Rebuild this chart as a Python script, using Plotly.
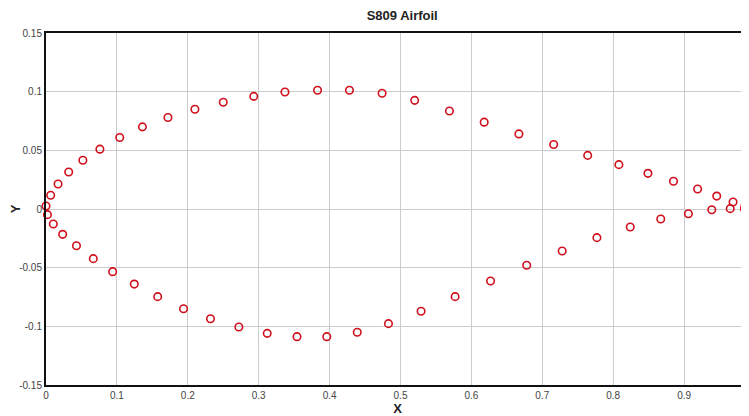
import plotly.graph_objects as go

# S809 airfoil coordinates
upper_x = [0.986, 0.969, 0.946, 0.919, 0.885, 0.849, 0.808, 0.764, 0.716, 0.667,
           0.618, 0.569, 0.520, 0.474, 0.428, 0.383, 0.337, 0.293, 0.250, 0.210,
           0.172, 0.136, 0.104, 0.076, 0.052, 0.032, 0.017, 0.0066, 0.0]
upper_y = [0.003, 0.006, 0.011, 0.017, 0.0236, 0.0304, 0.0378, 0.0457, 0.055, 0.064,
           0.074, 0.0835, 0.0926, 0.0986, 0.1012, 0.1012, 0.0997, 0.096, 0.091, 0.085,
           0.078, 0.070, 0.061, 0.051, 0.0415, 0.0315, 0.0213, 0.0117, 0.0026]
lower_x = [0.002, 0.0103, 0.0235, 0.043, 0.0667, 0.094, 0.1245, 0.1575, 0.194, 0.232,
           0.272, 0.312, 0.354, 0.396, 0.439, 0.483, 0.529, 0.577, 0.627, 0.678,
           0.728, 0.777, 0.824, 0.867, 0.906, 0.939, 0.965, 0.985]
lower_y = [-0.0048, -0.0128, -0.0216, -0.0313, -0.0423, -0.0534, -0.064, -0.0747, -0.085, -0.0935,
           -0.1006, -0.106, -0.1088, -0.1088, -0.105, -0.0977, -0.0872, -0.0747, -0.0614, -0.048,
           -0.0358, -0.0244, -0.0153, -0.0085, -0.004, -0.0006, 0.0003, 0.0003]

x_ticks = [0, 0.1, 0.2, 0.3, 0.4, 0.5, 0.6, 0.7, 0.8, 0.9]
x_labels = ["0", "0.1", "0.2", "0.3", "0.4", "0.5", "0.6", "0.7", "0.8", "0.9"]
y_ticks = [-0.15, -0.1, -0.05, 0, 0.05, 0.1, 0.15]
y_labels = ["-0.15", "-0.1", "-0.05", "0", "0.05", "0.1", "0.15"]

xs = upper_x + lower_x
ys = upper_y + lower_y

fig = go.Figure()
fig.add_trace(go.Scatter(
    x=xs, y=ys, mode="markers",
    marker=dict(symbol="circle-open", size=7.5, color="#d0101c", line=dict(width=1.6, color="#d0101c")),
    cliponaxis=False, showlegend=False,
))

fig.update_layout(
    width=741, height=408,
    margin=dict(l=38, r=0, t=25, b=31),
    paper_bgcolor="white", plot_bgcolor="white",
    title=dict(text="<b>S809 Airfoil</b>", x=0.532, xanchor="center", y=0.982, yanchor="middle",
               font=dict(family="Liberation Sans, Arial", size=13, color="#222")),
    font=dict(family="Liberation Sans, Arial", size=10, color="#444"),
)
fig.update_xaxes(
    range=[0, 0.9915], tickvals=x_ticks, ticktext=x_labels,
    showgrid=True, gridcolor="#cccccc", gridwidth=1, zeroline=False,
    showline=True, linecolor="#111", linewidth=2, mirror=True,
    ticks="", tickfont=dict(size=10, color="#444"),
    title=dict(text="<b>X</b>", font=dict(size=13, color="#222"), standoff=2),
    automargin=False,
)
fig.update_yaxes(
    range=[-0.15, 0.15], tickvals=y_ticks, ticktext=y_labels,
    showgrid=True, gridcolor="#cccccc", gridwidth=1, zeroline=False,
    showline=True, linecolor="#111", linewidth=2,
    ticks="", tickfont=dict(size=10, color="#444"),
    title=dict(text="<b>Y</b>", font=dict(size=13, color="#222"), standoff=0),
    automargin=False,
)
fig.write_html("out.html")
